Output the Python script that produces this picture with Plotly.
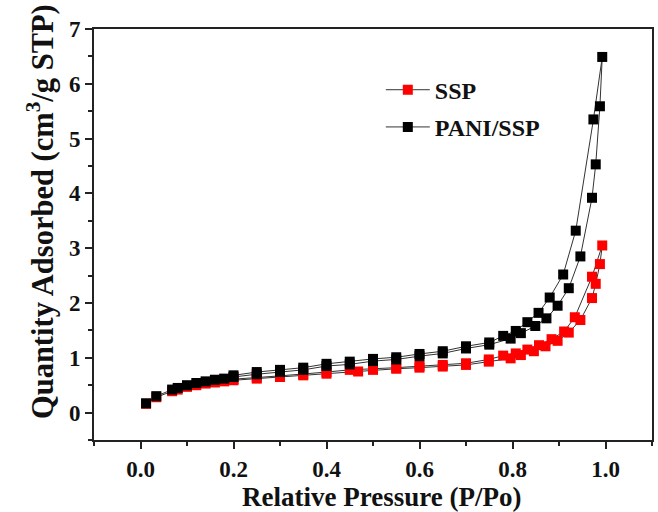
import plotly.graph_objects as go

# SSP (red) adsorption / desorption branches
ssp_ads_x = [0.012, 0.034, 0.068, 0.08, 0.1, 0.12, 0.14, 0.16, 0.18, 0.2, 0.25, 0.3, 0.35, 0.4, 0.468,
             0.5, 0.55, 0.6, 0.65, 0.7, 0.749, 0.796, 0.818, 0.846, 0.871, 0.897, 0.921, 0.946, 0.971,
             0.979, 0.988, 0.993]
ssp_ads_y = [0.16, 0.28, 0.39, 0.42, 0.47, 0.50, 0.53, 0.55, 0.57, 0.59, 0.62, 0.65, 0.68, 0.71, 0.75,
             0.78, 0.80, 0.82, 0.84, 0.87, 0.93, 0.99, 1.05, 1.12, 1.21, 1.31, 1.46, 1.69, 2.09,
             2.35, 2.71, 3.05]
ssp_des_x = [0.971, 0.934, 0.911, 0.884, 0.857, 0.832, 0.807, 0.78, 0.749, 0.7, 0.65, 0.6, 0.55, 0.5,
             0.45, 0.4, 0.35, 0.3, 0.25, 0.2]
ssp_des_y = [2.48, 1.74, 1.48, 1.34, 1.23, 1.15, 1.08, 1.04, 0.97, 0.90, 0.87, 0.85, 0.82, 0.80,
             0.78, 0.74, 0.70, 0.67, 0.64, 0.61]

# PANI/SSP (black) adsorption / desorption branches
pani_ads_x = [0.012, 0.034, 0.068, 0.08, 0.1, 0.12, 0.14, 0.16, 0.18, 0.2, 0.25, 0.3, 0.35, 0.4, 0.45,
              0.5, 0.55, 0.6, 0.65, 0.7, 0.75, 0.796, 0.818, 0.849, 0.873, 0.897, 0.921, 0.946, 0.971,
              0.979, 0.988, 0.993]
pani_ads_y = [0.17, 0.30, 0.42, 0.45, 0.50, 0.54, 0.57, 0.60, 0.62, 0.65, 0.70, 0.74, 0.78, 0.85, 0.88,
              0.94, 0.97, 1.03, 1.08, 1.17, 1.24, 1.35, 1.45, 1.58, 1.72, 1.95, 2.27, 2.85, 3.92,
              4.53, 5.59, 6.49]
pani_des_x = [0.974, 0.936, 0.909, 0.88, 0.856, 0.832, 0.807, 0.78, 0.75, 0.7, 0.65, 0.6, 0.55, 0.5,
              0.45, 0.4, 0.35, 0.3, 0.25, 0.2]
pani_des_y = [5.35, 3.32, 2.52, 2.10, 1.82, 1.65, 1.49, 1.40, 1.28, 1.21, 1.12, 1.07, 1.01, 0.98,
              0.93, 0.89, 0.82, 0.78, 0.74, 0.68]

series_names = ["SSP", "PANI/SSP"]
series_colors = ["#ff0000", "#000000"]
x_title = "Relative Pressure (P/Po)"
y_title = "Quantity Adsorbed (cm<sup>3</sup>/g STP)"

FONT = "Liberation Serif, Times New Roman, serif"

fig = go.Figure()
for name, color, xa, ya, xd, yd in [
    (series_names[0], series_colors[0], ssp_ads_x, ssp_ads_y, ssp_des_x, ssp_des_y),
    (series_names[1], series_colors[1], pani_ads_x, pani_ads_y, pani_des_x, pani_des_y),
]:
    fig.add_trace(go.Scatter(
        x=xa + xd, y=ya + yd, mode="lines+markers", name=name, legendgroup=name,
        line=dict(color="#333333", width=1),
        marker=dict(symbol="square", size=10, color=color, line=dict(width=0)),
    ))

axis_common = dict(
    showline=True, linecolor="#222222", linewidth=2, mirror=True,
    ticks="outside", ticklen=7, tickwidth=2, tickcolor="#222222",
    showgrid=False, zeroline=False, automargin=False,
    tickfont=dict(family=FONT, size=23, color="#111111", weight="bold"),
)

fig.update_xaxes(
    range=[-0.1, 1.1], tick0=0, dtick=0.2, tickformat=".1f",
    minor=dict(ticks="outside", ticklen=4, tickwidth=2, tickcolor="#222222", dtick=0.1, tick0=0),
    **axis_common,
)
fig.update_yaxes(
    range=[-0.5, 7], tick0=0, dtick=1,
    minor=dict(ticks="outside", ticklen=4, tickwidth=2, tickcolor="#222222", dtick=0.5, tick0=0),
    **axis_common,
)

fig.add_annotation(
    text=x_title, xref="paper", yref="paper", x=0.516, y=-0.1387,
    xanchor="center", yanchor="middle", showarrow=False,
    font=dict(family=FONT, size=27, color="#111111", weight="bold"),
)
fig.add_annotation(
    text=y_title, xref="paper", yref="paper", x=-0.0968, y=0.557, textangle=-90,
    xanchor="center", yanchor="middle", showarrow=False,
    font=dict(family=FONT, size=30.5, color="#111111", weight="bold"),
)

fig.update_layout(
    width=658, height=512,
    margin=dict(l=94, r=6, t=29, b=72),
    paper_bgcolor="white", plot_bgcolor="white",
    showlegend=True,
    legend=dict(
        x=0.514, y=0.906, xanchor="left", yanchor="top",
        bgcolor="rgba(0,0,0,0)",
        font=dict(family=FONT, size=24, color="#111111", weight="bold"),
        itemwidth=44, tracegroupgap=3, traceorder="grouped",
    ),
)

fig.write_html("out.html", config={"displayModeBar": False},
               post_script="document.body.style.margin='0';document.body.style.padding='0';")
